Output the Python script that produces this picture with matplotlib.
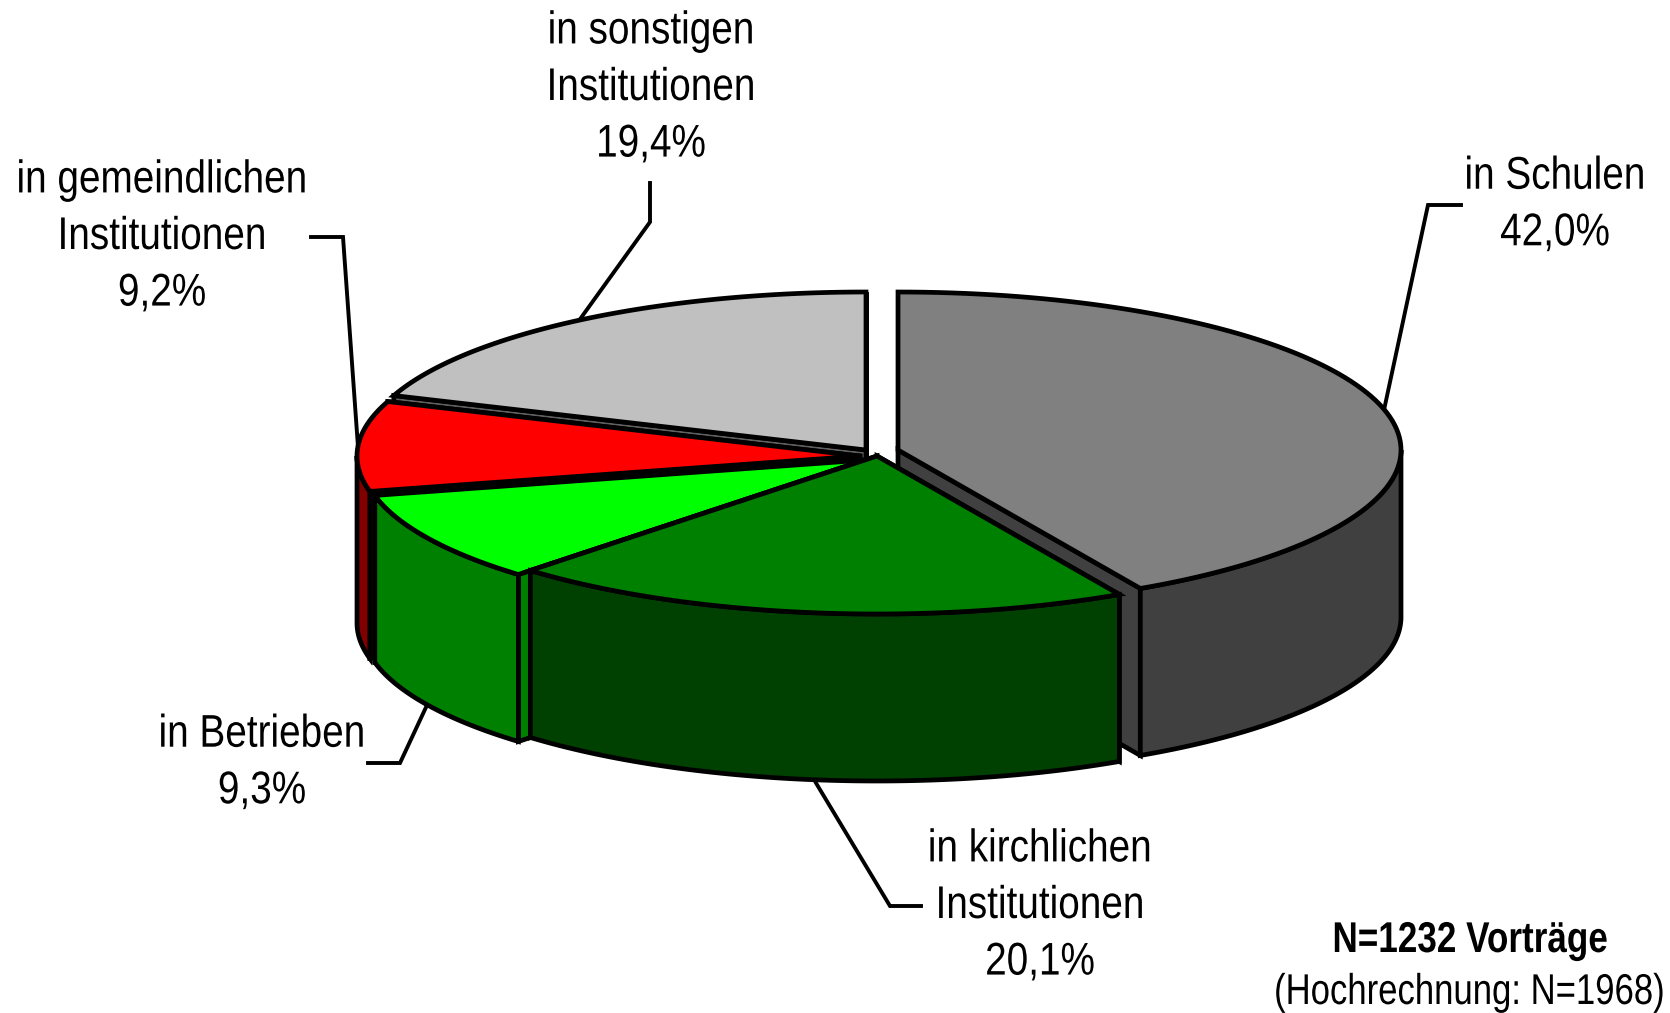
import numpy as np
import matplotlib
matplotlib.use('Agg')
import matplotlib.pyplot as plt
from matplotlib.patches import Polygon
from matplotlib.patheffects import AbstractPathEffect
from matplotlib.transforms import Affine2D

# values in percent, clockwise from 12 o'clock
labels = ['in Schulen', 'in kirchlichen\nInstitutionen', 'in Betrieben',
          'in gemeindlichen\nInstitutionen', 'in sonstigen\nInstitutionen']
values = [42.0, 20.1, 9.3, 9.2, 19.4]
value_text = ['42,0%', '20,1%', '9,3%', '9,2%', '19,4%']
top_colors = ['#808080', '#008000', '#00FF00', '#FF0000', '#C0C0C0']
side_colors = ['#404040', '#004000', '#008000', '#800000', '#606060']

# pie geometry in figure pixels (full size)
centers = [(898, 450), (877, 456), (865, 460), (860, 456), (866, 450)]
RX, RY, DEPTH = 503, 158, 167
LW = 3.4

plt.rcParams['font.family'] = ['Liberation Sans']

fig = plt.figure(figsize=(16.7, 10.13), dpi=100)
ax = fig.add_axes([0, 0, 1, 1])
ax.set_xlim(0, 1670)
ax.set_ylim(1013, 0)
ax.axis('off')


class Squeeze(AbstractPathEffect):
    # the reference font is narrower than Liberation Sans
    def __init__(self, cx, sx):
        super().__init__()
        self.cx, self.sx = cx, sx

    def draw_path(self, renderer, gc, tpath, affine, rgbFace=None):
        t = affine + Affine2D().translate(-self.cx, 0).scale(self.sx, 1).translate(self.cx, 0)
        renderer.draw_path(gc, tpath, t, rgbFace)


def label(x, y, s, fs=33, sx=0.845, **kw):
    ax.text(x, y, s, fontsize=fs, ha='center', va='center', linespacing=1.37,
            color='black', zorder=20, path_effects=[Squeeze(x, sx)], **kw)


def rim(c, a0, a1):
    t = np.radians(np.linspace(a0, a1, 100))
    return np.column_stack([c[0] + RX*np.sin(t), c[1] - RY*np.cos(t)])


def poly(pts, color, z):
    ax.add_patch(Polygon(pts, closed=True, facecolor=color, edgecolor='black',
                         linewidth=LW, joinstyle='miter', zorder=z))


edges = np.concatenate([[0], np.cumsum(values)])*3.6
order = [4, 3, 2, 0, 1]  # back to front
z = 1
for i in order:
    a0, a1 = edges[i], edges[i+1]
    c = centers[i]
    c_low = (c[0], c[1]+DEPTH)
    # cut faces, the one further back first
    for a in sorted((a0, a1), key=lambda a: rim(c, a, a)[0][1]):
        p = rim(c, a, a)[0]
        poly([c, p, p+[0, DEPTH], c_low], side_colors[i], z)
    # outer wall, only the front half of the rim shows
    w0, w1 = max(a0, 90), min(a1, 270)
    if w1 > w0:
        r = rim(c, w0, w1)
        poly(np.vstack([r, (r+[0, DEPTH])[::-1]]), side_colors[i], z)
    poly(np.vstack([[c], rim(c, a0, a1)]), top_colors[i], z+1)
    z += 2

label(651, 88, labels[4]+'\n'+value_text[4])
label(162, 237, labels[3]+'\n'+value_text[3])
label(1555, 205, labels[0]+'\n'+value_text[0])
label(262, 763, labels[2]+'\n'+value_text[2])
label(1040, 906, labels[1]+'\n'+value_text[1])
label(1470, 941, 'N=1232 Vorträge', fs=31, sx=0.815, fontweight='bold')
label(1469, 993, '(Hochrechnung: N=1968)', fs=31, sx=0.806)

# leader lines
leaders = [[(650, 183), (650, 222), (578, 322)],
           [(311, 237), (343, 237), (358, 447)],
           [(1461, 205), (1428, 205), (1384, 410)],
           [(368, 763), (400, 763), (428, 703)],
           [(921, 906), (890, 906), (816, 783)]]
for pts in leaders:
    xs, ys = zip(*pts)
    ax.plot(xs, ys, color='black', lw=2.8, zorder=0.5, solid_joinstyle='miter')

fig.savefig('out.png', dpi=100, facecolor='white')
